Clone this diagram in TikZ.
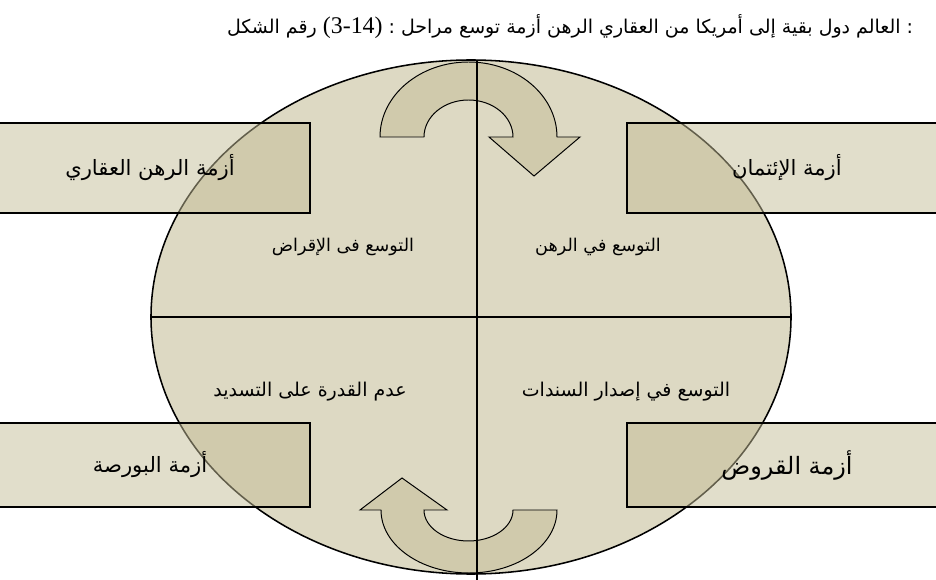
\documentclass[tikz,border=0pt]{standalone}
\usepackage{fontspec}
\newfontfamily\arabicfont[Script=Arabic]{DejaVu Sans}
\newfontfamily\digitfont{Liberation Serif}
\TeXXeTstate=1
\definecolor{ovalfill}{HTML}{DDD9C3}
\definecolor{boxfill}{HTML}{C4BD97}

\begin{document}
\begin{tikzpicture}[x=0.025cm, y=0.025cm,
    crisisbox/.style={draw=black, line width=0.9pt, fill=boxfill, fill opacity=0.5,
        text opacity=1, minimum width=8cm, inner sep=0pt,
        font=\arabicfont\fontsize{15}{18}\selectfont},
    phase/.style={font=\arabicfont\fontsize{12.5}{15}\selectfont, inner sep=1pt},
    turnarrow/.style={draw=black, line width=0.7pt, fill=boxfill, fill opacity=0.5}]
    \useasboundingbox (0,0) rectangle (936,580);
    \clip (0,0) rectangle (936,580);

    % Title (words set left to right, as printed)
    \node[anchor=east, font=\arabicfont\fontsize{13.5}{17}\selectfont] (title) at (918,553)
        {\mbox{الشكل} \mbox{رقم} \mbox{\digitfont\fontsize{17}{18}\selectfont (3-14)} \mbox{:}
         \mbox{مراحل} \mbox{توسع} \mbox{أزمة} \mbox{الرهن} \mbox{العقاري} \mbox{من}
         \mbox{أمريكا} \mbox{إلى} \mbox{بقية} \mbox{دول} \mbox{العالم} \mbox{:}};

    % Oval
    \draw[fill=ovalfill, line width=1.1pt] (471,263) ellipse (320 and 257);

    % Crisis boxes
    \node[crisisbox, minimum height=2.25cm] (mortgage) at (150,412) {\beginR أزمة الرهن العقاري\endR};
    \node[crisisbox, minimum height=2.25cm] (credit) at (787,412) {\beginR أزمة الإئتمان\endR};
    \node[crisisbox, minimum height=2.1cm] (bourse) at (150,115) {\beginR أزمة البورصة\endR};
    \node[crisisbox, minimum height=2.1cm, font=\arabicfont\fontsize{17}{20}\selectfont] (loans) at (787,115) {\beginR أزمة القروض\endR};

    % Turning arrows
    \draw[turnarrow] (380,443) arc (180:0:88.5 and 75) -- (580,443) -- (534,404)
        -- (489,443) -- (513,443) arc (0:180:44.5 and 37) -- cycle;
    \draw[turnarrow] (557,70) arc (0:-180:88 and 63) -- (360,70) -- (402,102)
        -- (447,70) -- (424,70) arc (180:360:44.5 and 31) -- cycle;

    % Quadrants
    \draw[line width=1.1pt] (477,520) -- (477,0);
    \draw[line width=1.1pt] (151,263) -- (791,263);

    % Phases
    \node[phase] (lending) at (343,333) {\beginR التوسع فى الإقراض\endR};
    \node[phase] (pledge) at (598,333) {\beginR التوسع في الرهن\endR};
    \node[phase, font=\arabicfont\fontsize{13.5}{16}\selectfont] (default) at (310,188) {\beginR عدم القدرة على التسديد\endR};
    \node[phase, font=\arabicfont\fontsize{13.5}{16}\selectfont] (bonds) at (626,188) {\beginR التوسع في إصدار السندات\endR};
\end{tikzpicture}
\end{document}
